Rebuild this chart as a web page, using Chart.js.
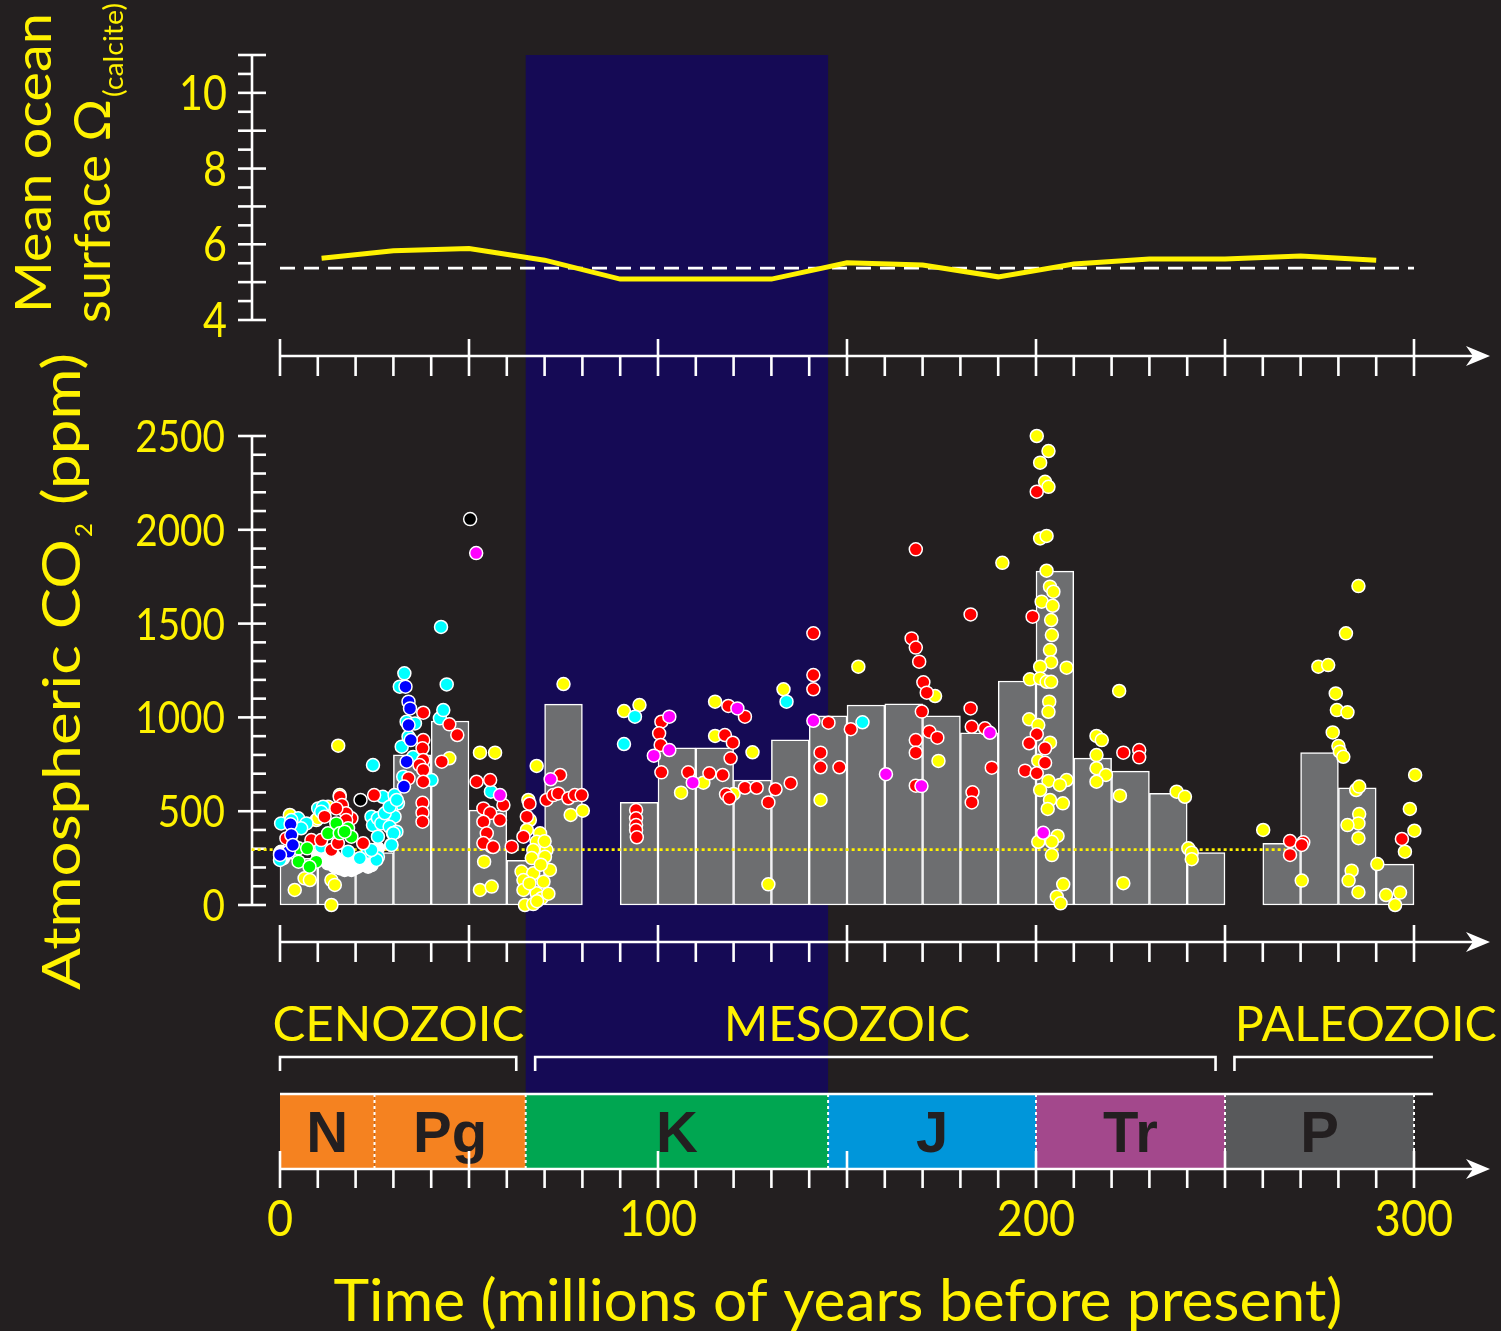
<!DOCTYPE html>
<html>
<head>
<meta charset="utf-8">
<script src="https://cdn.jsdelivr.net/npm/chart.js@4.4.1/dist/chart.umd.min.js"></script>
<style>
  html, body { margin: 0; padding: 0; background: #231f20; }
  #wrap { width: 1501px; height: 1331px; }
</style>
</head>
<body>
<div id="wrap"><canvas id="chart" width="1501" height="1331"></canvas></div>
<script>
// ---------------- data ----------------
// 10-Myr bin centres and mean atmospheric CO2 (ppm)
const co2BinAges  = [5,15,25,35,45,55,65,75, 95,105,115,125,135,145,155,165,175,185,195,205,215,225,235,245, 265,275,285,295];
const co2BinMeans = [249,230,280,800,981,506,238,1071, 547,838,838,666,880,1009,1066,1073,1009,918,1194,1780,783,714,595,279, 329,812,625,218];

// mean ocean surface calcite saturation
const omegaAges   = [11,30,50,70,90,110,130,150,170,190,210,230,250,270,290];
const omegaValues = [5.63,5.83,5.89,5.58,5.08,5.08,5.08,5.51,5.45,5.14,5.48,5.61,5.61,5.69,5.58];
const omegaModern = 5.37;
const co2Preindustrial = 295;

// individual CO2 proxy estimates [age Ma, ppm], grouped by proxy colour
const yellowPts = [
  [2.6,480],[3.9,80],[6.5,142],[7.9,133],[9.6,453],[10.1,462],[12.7,524],[13.6,133],[14.5,107],[13.6,0],[15.8,586],[15.4,849],
  [44.8,782],[52.9,812],[56.9,812],[54,231],[52.9,80],[56,98],
  [65.7,560],[66.1,453],[65.3,400],[68.8,382],[67.9,337],[70.5,293],[67,293],[70.1,257],[66.6,250],[63.9,178],[67,169],
  [69.7,124],[64.4,133],[64.4,80],[67.9,62],[69.2,36],[64.8,0],[67,5],[71.4,187],[69,215],[66,115],[70,340],[68,20],[71,60],
  [67.9,741],[76.9,480],[80.1,503],[75,1178],
  [91,1034],[95.1,1066],[115.1,1084],[115.1,901],[133.2,1150],[125,814],[106.1,599],[112,652],[120,592],[129.2,110],[143,560],[153,1270],
  [173.3,1114],[174.2,768],[191.1,1824],
  [200.2,2500],[203.3,2420],[201.1,2358],[202.4,2256],[203.3,2229],[201.1,1954],[202.8,1967],[202.8,1782],[203.7,1697],[204.6,1670],
  [201.5,1617],[204.4,1595],[204,1519],[204.2,1439],[203.7,1359],[204,1294],[201.1,1270],[208.1,1265],[198.4,1203],[201.1,1208],
  [202.8,1190],[204,1190],[203.5,1084],[203.3,1030],[198.2,990],[200.6,959],[203.7,865],[200.6,769],[203.3,661],[201.1,613],
  [208.1,666],[206.3,640],[203.7,560],[207.1,542],[203.1,512],[205.7,368],[200.6,337],[204.2,337],[204.2,266],[207.2,110],
  [205.5,44],[206.5,9],[216,901],[217.4,879],[216,799],[216,729],[218.5,693],[216,657],[222,1141],
  [222.2,583],[223.1,116],[237.2,604],[239.4,577],[240.3,302],[241.2,279],[241.2,244],
  [260.1,400],[270.3,130],[274.7,1270],[277.3,1279],[285.3,1700],[282,1448],[279.3,1128],[279.6,1039],[282.4,1027],[278.5,920],
  [280,847],[280.4,817],[281.3,790],[284.7,613],[285.5,631],[285.5,485],[285.3,435],[282.4,426],[285.3,356],[290.3,218],
  [283.5,183],[282.7,130],[285.3,68],[292.6,53],[295,0],[296.3,66],[300.3,693],[298.9,512],[300.1,396],[297.6,284]
];
const redPts = [
  [1.7,355],[8.3,346],[11.8,471],[15.8,577],[16.4,533],[18.9,462],[13.6,293],[15.3,329],[22,329],[24.9,586],[10.9,346],[17.5,489],[14.9,515],[17.5,453],
  [37.9,1025],[37.9,879],[37.7,835],[37.9,773],[36.9,746],[37.9,720],[37.9,657],[37.7,545],[37.7,492],[37.7,444],[34,675],
  [44.8,963],[46.9,906],[42.8,764],
  [52,657],[55.6,666],[53.8,515],[55.6,490],[53.8,444],[54.7,382],[53.8,330],[56.4,309],[59.1,533],[61.3,311],[64.4,364],
  [65.3,471],[66,540],[58.2,453],
  [70.5,560],[72.3,586],[73.6,595],[74.1,693],[76.3,569],[78,586],[79.8,586],
  [94.2,506],[94.2,462],[94.2,426],[94.2,400],[94.4,361],[100.9,977],[100.3,915],[100.7,853],[100.9,707],[108,707],[113.6,702],
  [118.6,1061],[123,1004],[117.7,906],[119.8,865],[119.2,782],[117.1,693],[118,590],[123,625],[126.1,625],[129.2,547],
  [131.1,617],[135.1,649],[141.1,1448],[141.1,1226],[141.1,1150],[145.1,972],[151,937],[143,812],[143,734],[148,734],[118.9,569],
  [168.2,1896],[182.7,1549],[167.1,1421],[168.2,1372],[169.1,1297],[170.2,1187],[171.1,1132],[169.8,1031],[182.7,1048],[183,950],
  [186.5,942],[171.8,924],[173.9,892],[168.2,879],[168.2,812],[188.3,732],[168.2,636],[183.2,601],[183,547],
  [200.2,2203],[199.1,1537],[200.2,910],[198.2,862],[202.4,835],[202.4,758],[197.1,716],[200.2,702],
  [223.1,812],[227.3,826],[227.3,787],[267.2,341],[270.7,334],[270.3,320],[267.2,267],[296.8,352]
];
const cyanPts = [
  [0.3,435],[4.8,462],[3,453],[7,435],[10.1,515],[11.4,524],[10.9,497],[24.2,471],[24.6,426],[28.6,435],[30.3,560],[27.2,577],
  [30.3,586],[31.2,542],[29.4,506],[30.3,471],[25.9,462],[26.8,435],[29,417],[30.8,391],[25.9,257],
  [29.4,320],[29.9,382],[25.5,240],[23.3,284],[25.9,364],[27.7,489],[5.6,409],[0,240],[29,524],[24.2,293],[21.1,249],
  [18,284],[10.9,311],[24.6,746],
  [32.9,1235],[31.7,1164],[33.5,977],[32.2,844],[34,897],[32.6,684],[40.1,666],[44.1,1176],[42.3,995],[43.2,1039],
  [35.7,968],[30,382],[29.5,320],[30.9,560],[42.6,1482],[35.2,789],
  [55.8,604],[91,858],[93.9,1004],[134,1084],[154.1,974]
];
const bluePts = [
  [2.8,430],[3,373],[2.3,284],[0,267],[3.4,320],
  [33.2,1164],[34,1084],[34.4,1048],[34,959],[34.6,879],[33.5,764],[32.8,631]
];
const greenPts = [
  [4.9,302],[7.2,302],[4.9,231],[9.6,231],[12.7,382],[14.9,435],[15.8,382],[18,409],[18.9,364],[7.8,204],[17.1,391]
];
const magentaPts = [
  [51.9,1876],[58.2,586],[71.6,670],[103,1004],[103,826],[98.9,796],[109.2,652],[121,1048],[141.1,982],
  [160.3,697],[169.7,634],[187.8,918],[201.9,385]
];
const whitePts = [
  [12.7,222],[14.5,204],[16.2,231],[18,213],[19.8,240],[21.5,222],[23.3,240],[25,257],[11.8,249],[10.1,266],
  [0,276],[0.3,284],[0.8,249],[23.3,204],[19.8,196],[17.1,187],[14.5,257],[25.9,302],[56,311],
  [13.6,249],[18,257],[20.6,204],[24.2,213],[15.8,196],[18.9,187]
];
const blackPts = [[21.3,560],[50.3,2057]];

// tick values
const omegaTickLabels = [4,6,8,10];
const co2TickLabels = [0,500,1000,1500,2000,2500];
const ageTickLabels = [0,100,200,300];

// geological time scale
const periodNames  = ['N','Pg','K','J','Tr','P'];
const periodBounds = [0,25,65,145,200,250,300];
const periodColors = ['#f58220','#f58220','#00a651','#0096da','#a3488c','#58595b'];
const eraNames  = ['CENOZOIC','MESOZOIC','PALEOZOIC'];
const eraBounds = [0,65,250,305];
const highlightAges = [65,145];

// ---------------- layout ----------------
const W = 1501, H = 1331;
const YELLOW = '#fff200';
const FONT = 'Lato, "DejaVu Sans", sans-serif';
const TEXT_WEIGHT = 'normal';
const AXIS_X = 252;          // x of the two vertical value axes
const ARROW_TIP = 1490;
const OMEGA_ARROW_Y = 356, CO2_ARROW_Y = 942;
const PERIOD_TOP = 1094, PERIOD_BOTTOM = 1169;
const BRACKET_Y = 1057;

// map a value scale onto the whole canvas from two calibration points
function rangeFor(vA, pA, vB, pB, pMin, pMax) {
  const k = (vB - vA) / (pB - pA);
  return { min: vA + (pMin - pA) * k, max: vA + (pMax - pA) * k };
}
const xRange     = rangeFor(0, 280, 300, 1414, 0, W);
const omegaRange = rangeFor(4, 320, 11, 55, H, 0);
const co2Range   = rangeFor(0, 905, 2500, 436, H, 0);

function text(ctx, s, x, y, size, o) {
  o = o || {};
  ctx.save();
  ctx.font = (o.weight || TEXT_WEIGHT) + ' ' + size + 'px ' + (o.family || FONT);
  ctx.fillStyle = o.color || YELLOW;
  ctx.textBaseline = 'alphabetic';
  const w = ctx.measureText(s).width;
  const sx = o.width ? o.width / w : (o.sx || 1);
  ctx.translate(x, y);
  if (o.rotate) ctx.rotate(o.rotate);
  if (o.dx || o.dy) ctx.translate(o.dx || 0, o.dy || 0);
  ctx.scale(sx, 1);
  const align = o.align || 'left';
  const off = align === 'left' ? 0 : (align === 'center' ? -w / 2 : -w);
  ctx.fillText(s, off, 0);
  ctx.restore();
}

function line(ctx, x1, y1, x2, y2) {
  ctx.beginPath(); ctx.moveTo(x1, y1); ctx.lineTo(x2, y2); ctx.stroke();
}

function timeArrow(ctx, X, y, tickDown, majorUp) {
  ctx.strokeStyle = '#fff'; ctx.fillStyle = '#fff'; ctx.lineWidth = 2.6;
  line(ctx, X(0), y, ARROW_TIP - 12, y);
  ctx.beginPath();
  ctx.moveTo(ARROW_TIP, y); ctx.lineTo(ARROW_TIP - 24, y - 10);
  ctx.lineTo(ARROW_TIP - 17, y); ctx.lineTo(ARROW_TIP - 24, y + 10);
  ctx.closePath(); ctx.fill();
  for (let t = 0; t <= 300; t += 10) {
    const major = t % 50 === 0;
    line(ctx, X(t), major ? y - majorUp : y, X(t), y + tickDown);
  }
}

const decorations = {
  id: 'decorations',
  beforeDraw(chart) {
    const ctx = chart.ctx;
    ctx.save();
    ctx.fillStyle = '#231f20';
    ctx.fillRect(0, 0, chart.width, chart.height);
    ctx.restore();
  },
  beforeDatasetsDraw(chart) {
    const ctx = chart.ctx, s = chart.scales;
    const X = v => s.x.getPixelForValue(v);
    const YO = v => s.yO.getPixelForValue(v);
    const YC = v => s.yC.getPixelForValue(v);
    ctx.save();
    ctx.lineCap = 'butt';

    // highlighted interval
    ctx.fillStyle = '#150a55';
    ctx.fillRect(X(highlightAges[0]), YO(11), X(highlightAges[1]) - X(highlightAges[0]), PERIOD_TOP - YO(11));

    // omega axis
    ctx.strokeStyle = '#fff'; ctx.lineWidth = 2.6;
    line(ctx, AXIS_X, YO(4), AXIS_X, YO(11));
    for (let v = 4; v <= 11.001; v += 0.5) {
      const major = Math.abs(v - Math.round(v)) < 1e-6;
      line(ctx, AXIS_X - 14, YO(v), major ? AXIS_X + 14 : AXIS_X, YO(v));
    }
    omegaTickLabels.forEach(v => text(ctx, String(v), 227, YO(v) + 17, 48, { align: 'right', sx: 0.86 }));

    // CO2 axis
    line(ctx, AXIS_X, YC(0), AXIS_X, YC(2500));
    for (let v = 0; v <= 2500; v += 100) {
      const major = v % 500 === 0;
      line(ctx, major ? AXIS_X - 14 : AXIS_X, YC(v), AXIS_X + 14, YC(v));
    }
    co2TickLabels.forEach(v => text(ctx, String(v), 225, YC(v) + 16, 45, { align: 'right', sx: 0.86 }));

    // time arrows
    timeArrow(ctx, X, OMEGA_ARROW_Y, 20, 17);
    timeArrow(ctx, X, CO2_ARROW_Y, 20, 17);

    // geological periods
    for (let i = 0; i < periodNames.length; i++) {
      const a = X(periodBounds[i]), b = X(periodBounds[i + 1]);
      ctx.fillStyle = periodColors[i];
      ctx.fillRect(a, PERIOD_TOP, b - a, PERIOD_BOTTOM - PERIOD_TOP);
    }
    ctx.strokeStyle = '#fff'; ctx.lineWidth = 2;
    ctx.setLineDash([3, 3]);
    for (let i = 1; i < periodBounds.length; i++) {
      line(ctx, X(periodBounds[i]), PERIOD_TOP, X(periodBounds[i]), PERIOD_BOTTOM);
    }
    ctx.setLineDash([]);
    ctx.lineWidth = 2.6;
    line(ctx, X(0), PERIOD_TOP, X(305), PERIOD_TOP);
    for (let i = 0; i < periodNames.length; i++) {
      const c = (X(periodBounds[i]) + X(periodBounds[i + 1])) / 2;
      text(ctx, periodNames[i], c, 1152, 58, { align: 'center', weight: 'bold', family: '"Liberation Sans", Arial, sans-serif', color: '#231f20' });
    }
    timeArrow(ctx, X, PERIOD_BOTTOM, 19, 18);

    // eras
    ctx.strokeStyle = '#fff'; ctx.lineWidth = 2.6;
    for (let i = 0; i < eraNames.length; i++) {
      const a = X(eraBounds[i] + (i === 0 ? 0 : 2.5));
      const b = X(eraBounds[i + 1] - (i === eraNames.length - 1 ? 0 : 2.5));
      ctx.beginPath();
      ctx.moveTo(a, BRACKET_Y + 14); ctx.lineTo(a, BRACKET_Y); ctx.lineTo(b, BRACKET_Y);
      if (i < eraNames.length - 1) ctx.lineTo(b, BRACKET_Y + 14);
      ctx.stroke();
    }
    text(ctx, eraNames[0], X(-2), 1041, 48, { width: 252 });
    text(ctx, eraNames[1], X(150), 1041, 48, { align: 'center', width: 246 });
    text(ctx, eraNames[2], X(252.6), 1041, 48, { width: 262 });

    // age labels and title
    ageTickLabels.forEach(v => text(ctx, String(v), X(v), 1236, 50, { align: 'center', sx: 0.9 }));
    text(ctx, 'Time (millions of years before present)', X(150) - 9, 1321, 58, { align: 'center', width: 1009 });

    // vertical titles
    const R = -Math.PI / 2;
    text(ctx, 'Atmospheric CO', 80, 990, 53, { rotate: R, width: 451 });
    text(ctx, '2', 80, 990, 24, { rotate: R, dx: 453, dy: 12 });
    text(ctx, '(ppm)', 80, 990, 53, { rotate: R, dx: 485, width: 152 });
    text(ctx, 'Mean ocean', 51, 313, 50, { rotate: R, width: 300 });
    text(ctx, 'surface \u03A9', 110, 323, 50, { rotate: R, width: 224 });
    text(ctx, '(calcite)', 110, 323, 26, { rotate: R, dx: 226, dy: 13, width: 94 });

    ctx.restore();
  }
};

const toXY = pts => pts.map(p => ({ x: p[0], y: p[1] }));
function pointSet(label, pts, colour, order) {
  return {
    type: 'line', label, data: toXY(pts), showLine: false, yAxisID: 'yC', order,
    pointRadius: 6.5, pointHoverRadius: 6.5, pointBorderWidth: 1.5,
    pointBorderColor: '#ffffff', pointBackgroundColor: colour
  };
}

new Chart(document.getElementById('chart'), {
  type: 'bar',
  data: {
    datasets: [
      { type: 'line', label: 'Omega', data: omegaAges.map((a, i) => ({ x: a, y: omegaValues[i] })),
        yAxisID: 'yO', borderColor: YELLOW, borderWidth: 5, pointRadius: 0, tension: 0, order: 1 },
      { type: 'line', label: 'Omega modern', data: [{ x: 0, y: omegaModern }, { x: 300, y: omegaModern }],
        yAxisID: 'yO', borderColor: '#ffffff', borderWidth: 2.6, borderDash: [15, 9], pointRadius: 0, order: 2 },
      pointSet('black', blackPts, '#000000', 1),
      pointSet('magenta', magentaPts, '#ff00ff', 2),
      pointSet('blue', bluePts, '#0000ff', 3),
      pointSet('green', greenPts, '#00ff00', 4),
      pointSet('red', redPts, '#ff0000', 5),
      pointSet('cyan', cyanPts, '#00ffff', 6),
      pointSet('yellow', yellowPts, '#ffff00', 7),
      pointSet('white', whitePts, '#ffffff', 8),
      { type: 'line', label: 'pre-industrial', data: [{ x: -7.5, y: co2Preindustrial }, { x: 266, y: co2Preindustrial }],
        yAxisID: 'yC', borderColor: YELLOW, borderWidth: 2.6, borderDash: [3, 3], pointRadius: 0, order: 9 },
      { type: 'bar', label: 'bin mean', data: co2BinAges.map((a, i) => ({ x: a, y: co2BinMeans[i] })),
        yAxisID: 'yC', backgroundColor: '#6d6e70', borderColor: '#ffffff', borderWidth: 1.5,
        borderSkipped: false, barPercentage: 1, categoryPercentage: 1, order: 10 }
    ]
  },
  options: {
    responsive: false, animation: false, devicePixelRatio: 1,
    layout: { padding: 0, autoPadding: false },
    plugins: { legend: { display: false }, tooltip: { enabled: false } },
    events: [],
    scales: {
      x:  { type: 'linear', display: false, offset: false, bounds: 'data', min: xRange.min, max: xRange.max, ticks: { stepSize: 50 } },
      yO: { type: 'linear', display: false, offset: false, bounds: 'data', min: omegaRange.min, max: omegaRange.max },
      yC: { type: 'linear', display: false, offset: false, bounds: 'data', min: co2Range.min, max: co2Range.max }
    }
  },
  plugins: [decorations]
});
</script>
</body>
</html>
